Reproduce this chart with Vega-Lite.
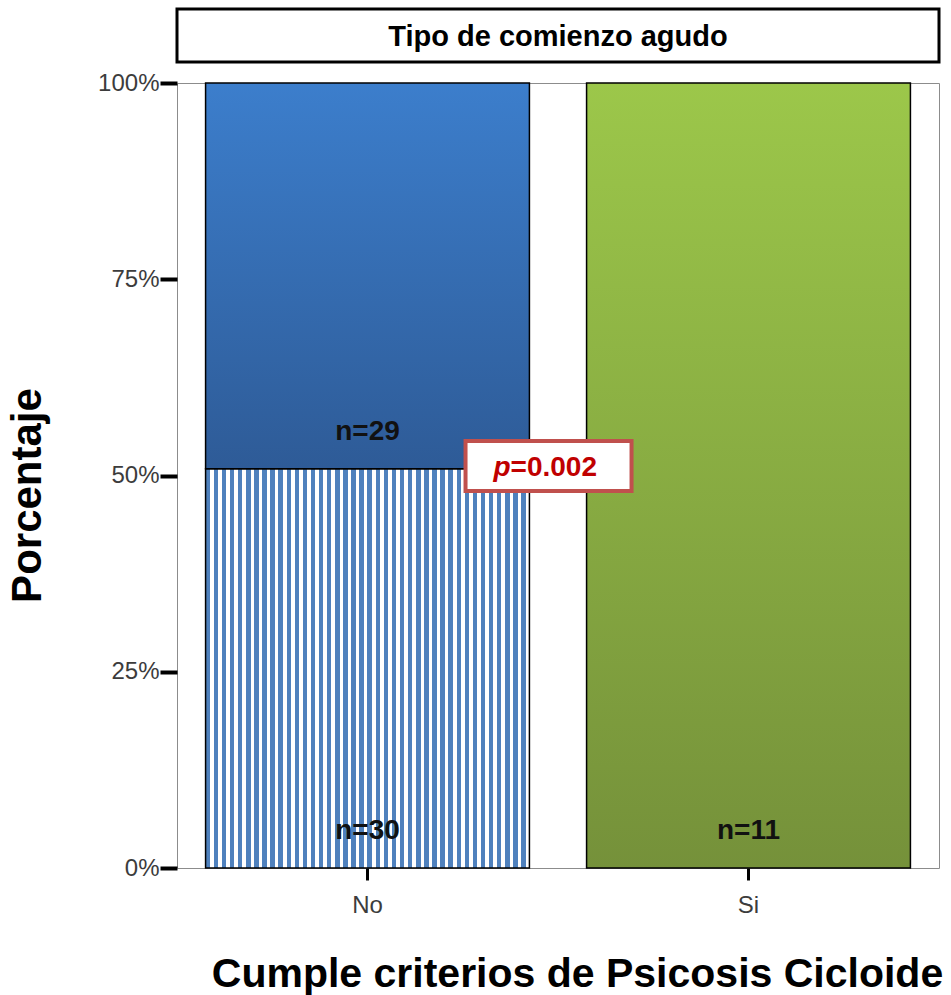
{
  "$schema": "https://vega.github.io/schema/vega-lite/v6.json",
  "padding": {"left": 6, "top": 7, "right": 0, "bottom": 0},
  "spacing": 6,
  "config": {
    "font": "Liberation Sans",
    "view": {"stroke": "#8c8c8c", "strokeWidth": 1}
  },
  "vconcat": [
    {
      "width": 762,
      "height": 53,
      "view": {"stroke": "black", "strokeWidth": 3, "fill": "white"},
      "data": {"values": [{"titulo": "Tipo de comienzo agudo"}]},
      "mark": {"type": "text", "font": "Liberation Sans", "fontWeight": "bold", "fontSize": 29, "color": "black", "baseline": "middle", "align": "center", "dy": 1},
      "encoding": {"text": {"field": "titulo", "type": "nominal"}}
    },
    {
      "width": 762,
      "height": 785,
      "encoding": {
        "x": {
          "field": "criterio", "type": "nominal", "sort": ["No", "Si"],
          "scale": {"paddingInner": 0.15, "paddingOuter": 0.075},
          "axis": {
            "title": "Cumple criterios de Psicosis Cicloide",
            "titleFont": "Liberation Sans", "titleFontSize": 41, "titleFontWeight": "bold", "titleColor": "black",
            "titlePadding": 37, "titleX": 400,
            "labelFont": "Liberation Sans", "labelFontSize": 24, "labelColor": "#3c3c3c", "labelAngle": 0, "labelPadding": 13,
            "domain": false, "ticks": true, "tickColor": "black", "tickWidth": 3, "tickSize": 12
          }
        }
      },
      "layer": [
        {
          "data": {"name": "barras", "values": [
            {"criterio": "No", "segmento": "rayado", "orden": 1, "n": 30, "etiqueta": "n=30"},
            {"criterio": "No", "segmento": "azul", "orden": 2, "n": 29, "etiqueta": "n=29"},
            {"criterio": "Si", "segmento": "verde", "orden": 1, "n": 11, "etiqueta": "n=11"}
          ]},
          "transform": [
            {"stack": "n", "groupby": ["criterio"], "offset": "normalize", "sort": [{"field": "orden", "order": "ascending"}], "as": ["y0", "y1"]}
          ],
          "layer": [
            {
              "transform": [{"filter": "datum.segmento === 'rayado'"}],
              "mark": {"type": "bar", "stroke": "black", "strokeWidth": 1.5,
                "fill": {"gradient": "linear", "x1": 0, "y1": 0, "x2": 1, "y2": 0, "stops": [
{"offset":0,"color":"#4F81BD"},{"offset":0.01375,"color":"#4F81BD"},{"offset":0.01375,"color":"#FFFFFF"},{"offset":0.025,"color":"#FFFFFF"},
{"offset":0.025,"color":"#4F81BD"},{"offset":0.03875,"color":"#4F81BD"},{"offset":0.03875,"color":"#FFFFFF"},{"offset":0.05,"color":"#FFFFFF"},
{"offset":0.05,"color":"#4F81BD"},{"offset":0.06375,"color":"#4F81BD"},{"offset":0.06375,"color":"#FFFFFF"},{"offset":0.075,"color":"#FFFFFF"},
{"offset":0.075,"color":"#4F81BD"},{"offset":0.08875,"color":"#4F81BD"},{"offset":0.08875,"color":"#FFFFFF"},{"offset":0.1,"color":"#FFFFFF"},
{"offset":0.1,"color":"#4F81BD"},{"offset":0.11375,"color":"#4F81BD"},{"offset":0.11375,"color":"#FFFFFF"},{"offset":0.125,"color":"#FFFFFF"},
{"offset":0.125,"color":"#4F81BD"},{"offset":0.13875,"color":"#4F81BD"},{"offset":0.13875,"color":"#FFFFFF"},{"offset":0.15,"color":"#FFFFFF"},
{"offset":0.15,"color":"#4F81BD"},{"offset":0.16375,"color":"#4F81BD"},{"offset":0.16375,"color":"#FFFFFF"},{"offset":0.175,"color":"#FFFFFF"},
{"offset":0.175,"color":"#4F81BD"},{"offset":0.18875,"color":"#4F81BD"},{"offset":0.18875,"color":"#FFFFFF"},{"offset":0.2,"color":"#FFFFFF"},
{"offset":0.2,"color":"#4F81BD"},{"offset":0.21375,"color":"#4F81BD"},{"offset":0.21375,"color":"#FFFFFF"},{"offset":0.225,"color":"#FFFFFF"},
{"offset":0.225,"color":"#4F81BD"},{"offset":0.23875,"color":"#4F81BD"},{"offset":0.23875,"color":"#FFFFFF"},{"offset":0.25,"color":"#FFFFFF"},
{"offset":0.25,"color":"#4F81BD"},{"offset":0.26375,"color":"#4F81BD"},{"offset":0.26375,"color":"#FFFFFF"},{"offset":0.275,"color":"#FFFFFF"},
{"offset":0.275,"color":"#4F81BD"},{"offset":0.28875,"color":"#4F81BD"},{"offset":0.28875,"color":"#FFFFFF"},{"offset":0.3,"color":"#FFFFFF"},
{"offset":0.3,"color":"#4F81BD"},{"offset":0.31375,"color":"#4F81BD"},{"offset":0.31375,"color":"#FFFFFF"},{"offset":0.325,"color":"#FFFFFF"},
{"offset":0.325,"color":"#4F81BD"},{"offset":0.33875,"color":"#4F81BD"},{"offset":0.33875,"color":"#FFFFFF"},{"offset":0.35,"color":"#FFFFFF"},
{"offset":0.35,"color":"#4F81BD"},{"offset":0.36375,"color":"#4F81BD"},{"offset":0.36375,"color":"#FFFFFF"},{"offset":0.375,"color":"#FFFFFF"},
{"offset":0.375,"color":"#4F81BD"},{"offset":0.38875,"color":"#4F81BD"},{"offset":0.38875,"color":"#FFFFFF"},{"offset":0.4,"color":"#FFFFFF"},
{"offset":0.4,"color":"#4F81BD"},{"offset":0.41375,"color":"#4F81BD"},{"offset":0.41375,"color":"#FFFFFF"},{"offset":0.425,"color":"#FFFFFF"},
{"offset":0.425,"color":"#4F81BD"},{"offset":0.43875,"color":"#4F81BD"},{"offset":0.43875,"color":"#FFFFFF"},{"offset":0.45,"color":"#FFFFFF"},
{"offset":0.45,"color":"#4F81BD"},{"offset":0.46375,"color":"#4F81BD"},{"offset":0.46375,"color":"#FFFFFF"},{"offset":0.475,"color":"#FFFFFF"},
{"offset":0.475,"color":"#4F81BD"},{"offset":0.48875,"color":"#4F81BD"},{"offset":0.48875,"color":"#FFFFFF"},{"offset":0.5,"color":"#FFFFFF"},
{"offset":0.5,"color":"#4F81BD"},{"offset":0.51375,"color":"#4F81BD"},{"offset":0.51375,"color":"#FFFFFF"},{"offset":0.525,"color":"#FFFFFF"},
{"offset":0.525,"color":"#4F81BD"},{"offset":0.53875,"color":"#4F81BD"},{"offset":0.53875,"color":"#FFFFFF"},{"offset":0.55,"color":"#FFFFFF"},
{"offset":0.55,"color":"#4F81BD"},{"offset":0.56375,"color":"#4F81BD"},{"offset":0.56375,"color":"#FFFFFF"},{"offset":0.575,"color":"#FFFFFF"},
{"offset":0.575,"color":"#4F81BD"},{"offset":0.58875,"color":"#4F81BD"},{"offset":0.58875,"color":"#FFFFFF"},{"offset":0.6,"color":"#FFFFFF"},
{"offset":0.6,"color":"#4F81BD"},{"offset":0.61375,"color":"#4F81BD"},{"offset":0.61375,"color":"#FFFFFF"},{"offset":0.625,"color":"#FFFFFF"},
{"offset":0.625,"color":"#4F81BD"},{"offset":0.63875,"color":"#4F81BD"},{"offset":0.63875,"color":"#FFFFFF"},{"offset":0.65,"color":"#FFFFFF"},
{"offset":0.65,"color":"#4F81BD"},{"offset":0.66375,"color":"#4F81BD"},{"offset":0.66375,"color":"#FFFFFF"},{"offset":0.675,"color":"#FFFFFF"},
{"offset":0.675,"color":"#4F81BD"},{"offset":0.68875,"color":"#4F81BD"},{"offset":0.68875,"color":"#FFFFFF"},{"offset":0.7,"color":"#FFFFFF"},
{"offset":0.7,"color":"#4F81BD"},{"offset":0.71375,"color":"#4F81BD"},{"offset":0.71375,"color":"#FFFFFF"},{"offset":0.725,"color":"#FFFFFF"},
{"offset":0.725,"color":"#4F81BD"},{"offset":0.73875,"color":"#4F81BD"},{"offset":0.73875,"color":"#FFFFFF"},{"offset":0.75,"color":"#FFFFFF"},
{"offset":0.75,"color":"#4F81BD"},{"offset":0.76375,"color":"#4F81BD"},{"offset":0.76375,"color":"#FFFFFF"},{"offset":0.775,"color":"#FFFFFF"},
{"offset":0.775,"color":"#4F81BD"},{"offset":0.78875,"color":"#4F81BD"},{"offset":0.78875,"color":"#FFFFFF"},{"offset":0.8,"color":"#FFFFFF"},
{"offset":0.8,"color":"#4F81BD"},{"offset":0.81375,"color":"#4F81BD"},{"offset":0.81375,"color":"#FFFFFF"},{"offset":0.825,"color":"#FFFFFF"},
{"offset":0.825,"color":"#4F81BD"},{"offset":0.83875,"color":"#4F81BD"},{"offset":0.83875,"color":"#FFFFFF"},{"offset":0.85,"color":"#FFFFFF"},
{"offset":0.85,"color":"#4F81BD"},{"offset":0.86375,"color":"#4F81BD"},{"offset":0.86375,"color":"#FFFFFF"},{"offset":0.875,"color":"#FFFFFF"},
{"offset":0.875,"color":"#4F81BD"},{"offset":0.88875,"color":"#4F81BD"},{"offset":0.88875,"color":"#FFFFFF"},{"offset":0.9,"color":"#FFFFFF"},
{"offset":0.9,"color":"#4F81BD"},{"offset":0.91375,"color":"#4F81BD"},{"offset":0.91375,"color":"#FFFFFF"},{"offset":0.925,"color":"#FFFFFF"},
{"offset":0.925,"color":"#4F81BD"},{"offset":0.93875,"color":"#4F81BD"},{"offset":0.93875,"color":"#FFFFFF"},{"offset":0.95,"color":"#FFFFFF"},
{"offset":0.95,"color":"#4F81BD"},{"offset":0.96375,"color":"#4F81BD"},{"offset":0.96375,"color":"#FFFFFF"},{"offset":0.975,"color":"#FFFFFF"},
{"offset":0.975,"color":"#4F81BD"},{"offset":0.98875,"color":"#4F81BD"},{"offset":0.98875,"color":"#FFFFFF"},{"offset":1,"color":"#FFFFFF"}
                ]}
              },
              "encoding": {
                "y": {"field": "y0", "type": "quantitative",
                  "scale": {"domain": [0, 1], "nice": false},
                  "axis": {
                    "title": "Porcentaje", "format": ".0%", "values": [0, 0.25, 0.5, 0.75, 1],
                    "titleFont": "Liberation Sans", "titleFontSize": 42, "titleFontWeight": "bold", "titleColor": "black", "titlePadding": 48, "titleY": 412,
                    "labelFont": "Liberation Sans", "labelFontSize": 24, "labelColor": "#3c3c3c", "labelPadding": 1,
                    "domain": false, "grid": false, "ticks": true, "tickColor": "black", "tickWidth": 4, "tickSize": 17
                  }
                },
                "y2": {"field": "y1"}
              }
            },
            {
              "transform": [{"filter": "datum.segmento === 'azul'"}],
              "mark": {"type": "bar", "stroke": "black", "strokeWidth": 1.5,
                "fill": {"gradient": "linear", "x1": 0, "y1": 0, "x2": 0, "y2": 1, "stops": [
                  {"offset": 0, "color": "#3C7ECC"}, {"offset": 1, "color": "#2E5B97"}
                ]}
              },
              "encoding": {"y": {"field": "y0", "type": "quantitative"}, "y2": {"field": "y1"}}
            },
            {
              "transform": [{"filter": "datum.segmento === 'verde'"}],
              "mark": {"type": "bar", "stroke": "black", "strokeWidth": 1.5,
                "fill": {"gradient": "linear", "x1": 0, "y1": 0, "x2": 0, "y2": 1, "stops": [
                  {"offset": 0, "color": "#9CC74A"}, {"offset": 1, "color": "#75913A"}
                ]}
              },
              "encoding": {"y": {"field": "y0", "type": "quantitative"}, "y2": {"field": "y1"}}
            },
            {
              "mark": {"type": "text", "font": "Liberation Sans", "fontWeight": "bold", "fontSize": 28, "color": "#111111", "baseline": "middle", "dy": -37},
              "encoding": {
                "y": {"field": "y0", "type": "quantitative"},
                "text": {"field": "etiqueta", "type": "nominal"}
              }
            }
          ]
        },
        {
          "data": {"values": [{"criterio": "No", "prueba": "p", "valor": "=0.002", "nivel": 0.512}]},
          "layer": [
            {
              "mark": {"type": "point", "filled": true, "opacity": 1, "fill": "white", "stroke": "#C0504D", "strokeWidth": 4,
                "shape": "M-1,-0.301L1,-0.301L1,0.301L-1,0.301Z", "size": 27556},
              "encoding": {
                "x": {"field": "criterio", "type": "nominal", "bandPosition": 1.059},
                "y": {"field": "nivel", "type": "quantitative"}
              }
            },
            {
              "mark": {"type": "text", "font": "Liberation Sans", "fontWeight": "bold", "fontStyle": "italic", "fontSize": 28, "color": "#C00000", "align": "right", "baseline": "middle", "dx": -38, "dy": 2},
              "encoding": {
                "x": {"field": "criterio", "type": "nominal", "bandPosition": 1.059},
                "y": {"field": "nivel", "type": "quantitative"},
                "text": {"field": "prueba", "type": "nominal"}
              }
            },
            {
              "mark": {"type": "text", "font": "Liberation Sans", "fontWeight": "bold", "fontSize": 28, "color": "#C00000", "align": "left", "baseline": "middle", "dx": -38, "dy": 2},
              "encoding": {
                "x": {"field": "criterio", "type": "nominal", "bandPosition": 1.059},
                "y": {"field": "nivel", "type": "quantitative"},
                "text": {"field": "valor", "type": "nominal"}
              }
            }
          ]
        }
      ]
    }
  ]
}
